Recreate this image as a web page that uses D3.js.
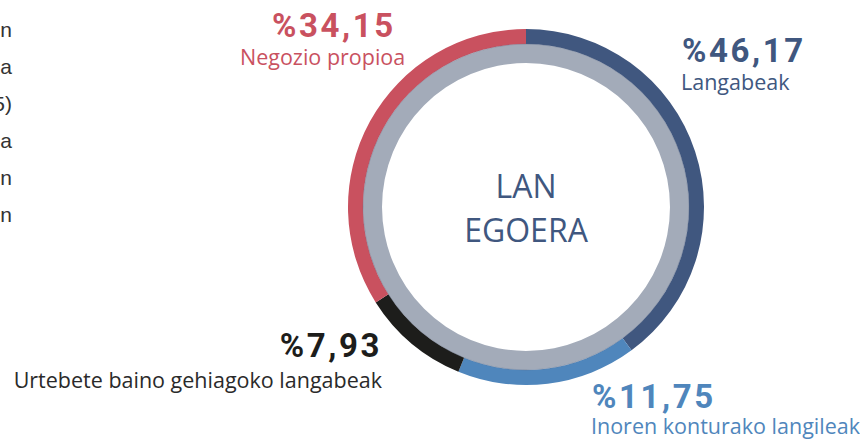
<!DOCTYPE html>
<html>
<head>
<meta charset="utf-8">
<script src="https://cdn.jsdelivr.net/npm/d3@7"></script>
<style>
  html, body { margin: 0; padding: 0; background: #fff; }
  svg { display: block; }
</style>
</head>
<body>
<svg id="chart" width="860" height="443"></svg>
<script>
// ---- data ----
const categories = ["Langabeak", "Inoren konturako langileak", "Urtebete baino gehiagoko langabeak", "Negozio propioa"];
const labelValues = [46.17, 11.75, 7.93, 34.15];        // percentages printed on the chart
const drawnShares = [39.9, 16.3, 9.8, 34.0];             // arc shares as drawn in the picture
const colors = ["#40577f", "#4f86bc", "#1d1d1b", "#c9515f"];
const centerTitle = ["LAN", "EGOERA"];
const sideText = ["n", "a", "5)", "a", "n", "n"];        // clipped paragraph at the left edge

const svg = d3.select("#chart");
const cx = 526, cy = 207;
const rOuter = 178, rMid = 163, rInner = 144;

// gray inner ring
const g = svg.append("g").attr("transform", `translate(${cx},${cy})`);
g.append("path")
  .attr("d", d3.arc().innerRadius(rInner).outerRadius(rMid).startAngle(0).endAngle(2 * Math.PI)())
  .attr("fill", "#a3abb9");

const data = categories.map((c, i) => ({ cat: c, share: drawnShares[i], label: labelValues[i], color: colors[i] }));
const pie = d3.pie().value(d => d.share).sort(null);
const arc = d3.arc().innerRadius(rMid).outerRadius(rOuter);
g.selectAll("path.seg").data(pie(data)).join("path")
  .attr("class", "seg")
  .attr("d", arc)
  .attr("fill", d => d.data.color);

// thin separation line
g.append("circle").attr("r", rMid).attr("fill", "none").attr("stroke", "#5d6b86").attr("stroke-width", 0.6).attr("opacity", 0.6);

// center title
g.selectAll("text.title").data(centerTitle).join("text")
  .attr("class", "title")
  .attr("x", 0)
  .attr("y", (d, i) => -9 + i * 44)
  .attr("text-anchor", "middle")
  .attr("font-family", "'Open Sans', sans-serif")
  .attr("font-size", 32)
  .attr("fill", "#40577f")
  .text(d => d);

// labels
const fmt = v => "%" + d3.format(".2f")(v).replace(".", ",");
const labelPos = [
  { x: 682, y: 62, sx: 681, sy: 90, anchor: "start" },
  { x: 592, y: 408, sx: 591, sy: 434, anchor: "start" },
  { x: 382, y: 357, sx: 382, sy: 388, anchor: "end" },
  { x: 272, y: 37, sx: 240, sy: 65, anchor: "start" }
];
const numFont = "Roboto, sans-serif";
data.forEach((d, i) => {
  const p = labelPos[i];
  svg.append("text")
    .attr("x", p.x).attr("y", p.y)
    .attr("text-anchor", p.anchor)
    .attr("font-family", numFont)
    .attr("font-weight", 700)
    .attr("font-size", 33)
    .attr("letter-spacing", 2.6)
    .attr("fill", d.color)
    .text(fmt(d.label));
  svg.append("text")
    .attr("x", p.sx).attr("y", p.sy)
    .attr("text-anchor", p.anchor)
    .attr("font-family", "'Open Sans', sans-serif")
    .attr("font-size", 21.5)
    .attr("fill", d.color === "#1d1d1b" ? "#2a2a2a" : d.color)
    .text(d.cat);
});

// clipped left paragraph
svg.selectAll("text.side").data(sideText).join("text")
  .attr("class", "side")
  .attr("x", 12)
  .attr("y", (d, i) => 37 + i * 37)
  .attr("text-anchor", "end")
  .attr("font-family", "'Liberation Sans', Arial, sans-serif")
  .attr("font-size", 21)
  .attr("fill", "#333")
  .text(d => d);
</script>
</body>
</html>
